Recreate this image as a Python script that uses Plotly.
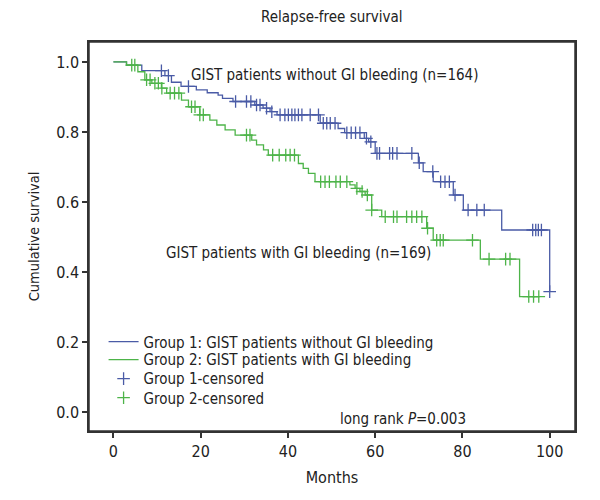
import numpy as np
import plotly.graph_objects as go

# Kaplan-Meier steps: (month, survival after the step)
g1_event_months = [3, 6.5, 11.8, 13.3, 15.5, 19, 21.5, 24, 25, 27.4, 32.4, 34.3, 35.9, 37.5,
                   47.4, 51.5, 53, 57.5, 58.5, 60, 69.9, 71, 73.3, 77.9, 80.2, 89, 100]
g1_survival = [0.991, 0.975, 0.961, 0.942, 0.93, 0.92, 0.912, 0.905, 0.896, 0.887, 0.877, 0.868,
               0.858, 0.849, 0.825, 0.81, 0.798, 0.782, 0.772, 0.739, 0.712, 0.687, 0.658, 0.62,
               0.577, 0.52, 0.344]
g1_censored = [11, 12.6, 17.2, 28, 30.5, 31.5, 32.8, 33.6, 35.1, 36.3, 38.2, 39.3, 40.1, 40.9,
               41.6, 42.4, 43.2, 45.1, 47, 48.1, 48.9, 49.7, 50.8, 53.5, 54.5, 55.5, 56.5, 58,
               59, 60.4, 61, 63.3, 64, 65, 68.4, 70.1, 73.2, 75, 76, 77, 78.3, 81.3, 83.3, 85,
               96.1, 96.8, 97.4, 98.1, 100]

g2_event_months = [3, 5.6, 7.2, 8.8, 11, 12.2, 15.6, 17.2, 19.8, 22.1, 23.7, 25.6, 27.9, 31.7,
                   32.8, 34.4, 35.5, 42.4, 43.5, 44.7, 46.2, 54.2, 55.4, 56.5, 57.7, 59.2, 61.5,
                   71.8, 73.3, 84.1, 93.1]
g2_survival = [0.991, 0.972, 0.949, 0.939, 0.925, 0.911, 0.891, 0.872, 0.849, 0.834, 0.82, 0.806,
               0.791, 0.777, 0.763, 0.749, 0.734, 0.71, 0.696, 0.682, 0.658, 0.649, 0.639, 0.63,
               0.62, 0.577, 0.558, 0.525, 0.491, 0.437, 0.33]
g2_censored = [4.2, 4.9, 7.6, 8.4, 9.5, 10.3, 11.1, 13, 14, 15, 17.9, 18.7, 19.8, 20.6, 30.5,
               31.3, 36.5, 38, 39.5, 40.5, 41.5, 47.5, 48.5, 49.5, 51, 52, 53.5, 55.8, 57, 58.2,
               59.2, 62.3, 64.2, 65, 67.2, 68.4, 69.5, 70.7, 72, 74.1, 74.9, 75.6, 82.3, 86.1,
               89.9, 90.9, 95.2, 96.3, 97.5]

x_ticks = [0, 20, 40, 60, 80, 100]
y_ticks = [0.0, 0.2, 0.4, 0.6, 0.8, 1.0]

BLUE = "#4a5ba6"
GREEN = "#4db449"
TEXT = "#222222"
FONT = "DejaVu Sans Condensed, Liberation Sans Narrow, sans-serif"


def step_curve(months, surv, censored):
    xs = [0] + list(months)
    ys = [1.0] + list(surv)
    if max(censored) > xs[-1]:
        xs.append(max(censored))
        ys.append(ys[-1])
    return xs, ys


def censor_y(months, surv, censored):
    t = np.asarray([0] + list(months))
    s = np.asarray([1.0] + list(surv))
    idx = np.searchsorted(t, np.asarray(censored), side="right") - 1
    return s[idx]


fig = go.Figure()
for name, months, surv, cens, color, leg in [
    ("Group 1: GIST patients without GI bleeding", g1_event_months, g1_survival, g1_censored, BLUE, "legend"),
    ("Group 2: GIST patients with GI bleeding", g2_event_months, g2_survival, g2_censored, GREEN, "legend2"),
]:
    xs, ys = step_curve(months, surv, cens)
    fig.add_trace(go.Scatter(x=xs, y=ys, mode="lines", line_shape="hv", name=name, legend=leg,
                             showlegend=True, line=dict(color=color, width=1.3)))

for name, months, surv, cens, color, leg in [
    ("Group 1-censored", g1_event_months, g1_survival, g1_censored, BLUE, "legend3"),
    ("Group 2-censored", g2_event_months, g2_survival, g2_censored, GREEN, "legend4"),
]:
    fig.add_trace(go.Scatter(x=cens, y=censor_y(months, surv, cens), mode="markers", name=name,
                             legend=leg, showlegend=True,
                             marker=dict(symbol="cross-thin-open", size=9, color=color,
                                         line=dict(color=color, width=1.3))))

axis_style = dict(showline=True, linecolor="#333333", linewidth=1.5, mirror=True, ticks="outside",
                  ticklen=5, tickwidth=2, tickcolor="#333333", showgrid=False, zeroline=False,
                  automargin=False, tickfont=dict(size=16, color=TEXT))
fig.update_xaxes(range=[-5.6, 105.8], tickvals=x_ticks, **axis_style,
                 title=dict(text="Months", font=dict(size=16, color=TEXT), standoff=12))
fig.update_yaxes(range=[-0.054, 1.057], tickvals=y_ticks, tickformat=".1f", **axis_style,
                 title=dict(text="Cumulative survival", font=dict(size=14.5, color=TEXT),
                            standoff=13))

# frame around the plot area
fig.add_shape(type="rect", xref="paper", yref="paper", x0=0, y0=0, x1=1, y1=1,
              line=dict(color="#333333", width=1.5))

fig.add_annotation(x=0.506, y=0.915, xref="paper", yref="paper", showarrow=False,
                   xanchor="center", yanchor="middle",
                   text="GIST patients without GI bleeding (n=164)",
                   font=dict(size=15, color=TEXT))
fig.add_annotation(x=0.431, y=0.458, xref="paper", yref="paper", showarrow=False,
                   xanchor="center", yanchor="middle",
                   text="GIST patients with GI bleeding (n=169)",
                   font=dict(size=15, color=TEXT))
fig.add_annotation(x=0.647, y=0.031, xref="paper", yref="paper", showarrow=False,
                   xanchor="center", yanchor="middle",
                   text="long rank <i>P</i>=0.003", font=dict(size=15, color=TEXT))

legend_style = dict(x=0.03, xanchor="left", yanchor="middle", bgcolor="rgba(0,0,0,0)",
                    font=dict(size=15, color=TEXT), itemwidth=30, visible=True)

# the page body adds an 8px margin, so the figure is 8px smaller to fit the window
fig.update_layout(
    template="none",
    width=592, height=492,
    margin=dict(l=81, r=25, t=34, b=69),
    paper_bgcolor="white", plot_bgcolor="white",
    font=dict(family=FONT, color=TEXT),
    showlegend=True,
    title=dict(text="Relapse-free survival", x=0.547, xanchor="center", y=0.982,
               yanchor="middle", font=dict(size=15, color=TEXT)),
    legend=dict(y=0.229, **legend_style),
    legend2=dict(y=0.183, **legend_style),
    legend3=dict(y=0.134, **legend_style),
    legend4=dict(y=0.085, **legend_style),
)

fig.write_html("out.html")
